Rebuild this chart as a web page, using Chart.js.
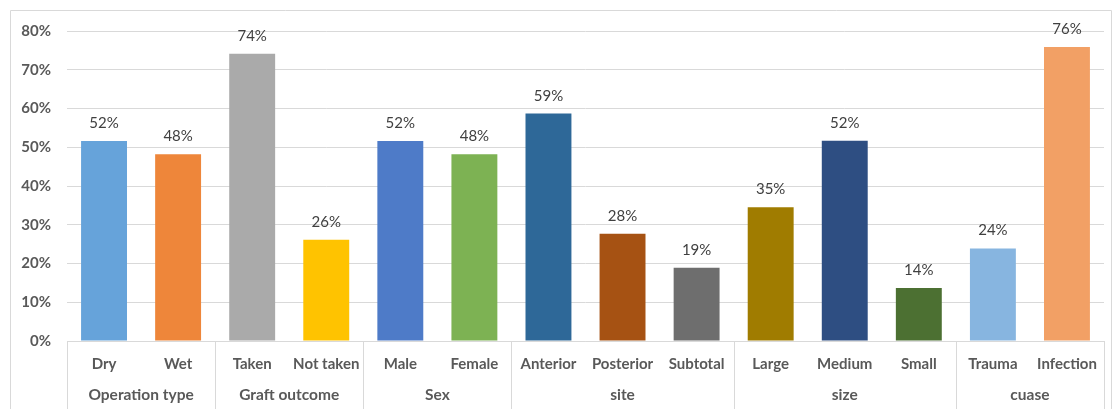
<!DOCTYPE html>
<html>
<head>
<meta charset="utf-8">
<script src="https://cdn.jsdelivr.net/npm/chart.js@4/dist/chart.umd.min.js"></script>
<style>
  html, body { margin: 0; padding: 0; background: #ffffff; }
  #wrap { width: 1115px; height: 409px; position: relative; }
</style>
</head>
<body>
<div id="wrap"><canvas id="c" width="1115" height="409"></canvas></div>
<script>
// Sub-categories (bars), in order
const categories = ['Dry', 'Wet', 'Taken', 'Not taken', 'Male', 'Female',
  'Anterior', 'Posterior', 'Subtotal', 'Large', 'Medium', 'Small', 'Trauma', 'Infection'];

// Share of cases per sub-category, in percent
const values = [51.6, 48.2, 74.1, 26.1, 51.6, 48.2, 58.7, 27.7, 18.9, 34.5, 51.7, 13.7, 23.9, 75.9];

// Group labels and how many bars each group spans
const groupNames = ['Operation type', 'Graft outcome', 'Sex', 'site', 'size', 'cuase'];
const groupSizes = [2, 2, 2, 3, 3, 2];

// Y axis tick values
const yTicks = [0, 10, 20, 30, 40, 50, 60, 70, 80];

const barColors = ['#66A3DA', '#EE863A', '#AAAAAA', '#FFC300', '#4E7BC8', '#7DB253',
  '#2E6898', '#A65213', '#6E6E6E', '#A07C00', '#2E4E82', '#4C7032', '#87B5E0', '#F2A065'];

const FONT = 'Lato, "Open Sans", sans-serif';
const GRID = '#D9D9D9';

// Outer frame around the chart
const framePlugin = {
  id: 'frame',
  beforeDraw(chart) {
    const ctx = chart.ctx;
    ctx.save();
    ctx.strokeStyle = GRID;
    ctx.lineWidth = 1;
    ctx.beginPath();
    ctx.moveTo(10.5, 420);
    ctx.lineTo(10.5, 10.5);
    ctx.lineTo(1111.5, 10.5);
    ctx.lineTo(1111.5, 420);
    ctx.stroke();
    ctx.restore();
  }
};

// Percentage labels above each bar
const valueLabels = {
  id: 'valueLabels',
  afterDatasetsDraw(chart) {
    const ctx = chart.ctx;
    const meta = chart.getDatasetMeta(0);
    ctx.save();
    ctx.font = '15px ' + FONT;
    ctx.fillStyle = '#404040';
    ctx.textAlign = 'center';
    ctx.textBaseline = 'alphabetic';
    meta.data.forEach((bar, i) => {
      ctx.fillText(Math.round(values[i]) + '%', bar.x, bar.y - 13);
    });
    ctx.restore();
  }
};

// Two-level category axis: group separators and group names
const groupAxis = {
  id: 'groupAxis',
  afterDraw(chart) {
    const ctx = chart.ctx;
    const xs = chart.scales.x;
    const area = chart.chartArea;
    const half = (xs.getPixelForValue(1) - xs.getPixelForValue(0)) / 2;
    ctx.save();
    ctx.strokeStyle = GRID;
    ctx.lineWidth = 1;
    // base line of the axis
    ctx.beginPath();
    ctx.moveTo(area.left, Math.round(area.bottom) + 0.5);
    ctx.lineTo(area.right, Math.round(area.bottom) + 0.5);
    ctx.stroke();
    let start = 0;
    const edges = [xs.getPixelForValue(0) - half];
    groupSizes.forEach(n => {
      start += n;
      edges.push(xs.getPixelForValue(start - 1) + half);
    });
    edges.forEach(x => {
      const px = Math.round(x) + 0.5;
      ctx.beginPath();
      ctx.moveTo(px, area.bottom);
      ctx.lineTo(px, 420);
      ctx.stroke();
    });
    ctx.font = 'bold 15.5px ' + FONT;
    ctx.fillStyle = '#595959';
    ctx.textAlign = 'center';
    ctx.textBaseline = 'middle';
    start = 0;
    groupSizes.forEach((n, g) => {
      const a = xs.getPixelForValue(start) - half;
      const b = xs.getPixelForValue(start + n - 1) + half;
      ctx.fillText(groupNames[g], (a + b) / 2, 395);
      start += n;
    });
    ctx.restore();
  }
};

new Chart(document.getElementById('c'), {
  type: 'bar',
  data: {
    labels: categories,
    datasets: [{
      data: values,
      backgroundColor: barColors,
      borderWidth: 0,
      barPercentage: 0.62,
      categoryPercentage: 1.0
    }]
  },
  options: {
    responsive: false,
    animation: false,
    devicePixelRatio: 1,
    layout: { padding: { left: 0, right: 11, top: 31, bottom: 0 } },
    plugins: { legend: { display: false }, tooltip: { enabled: false } },
    scales: {
      x: {
        grid: { display: false, drawTicks: false },
        border: { display: false },
        ticks: {
          color: '#595959',
          font: { family: FONT, size: 15, weight: 'bold' },
          padding: 14,
          maxRotation: 0,
          autoSkip: false
        },
        afterFit(scale) { scale.height = 68; }
      },
      y: {
        min: 0,
        max: 80,
        afterBuildTicks(scale) { scale.ticks = yTicks.map(v => ({ value: v })); },
        grid: { color: GRID, lineWidth: 1, drawTicks: false },
        border: { display: false },
        ticks: {
          color: '#595959',
          font: { family: FONT, size: 15, weight: 'bold' },
          padding: 16,
          callback: v => v + '%'
        },
        afterFit(scale) { scale.width = 67; }
      }
    }
  },
  plugins: [framePlugin, valueLabels, groupAxis]
});
</script>
</body>
</html>
